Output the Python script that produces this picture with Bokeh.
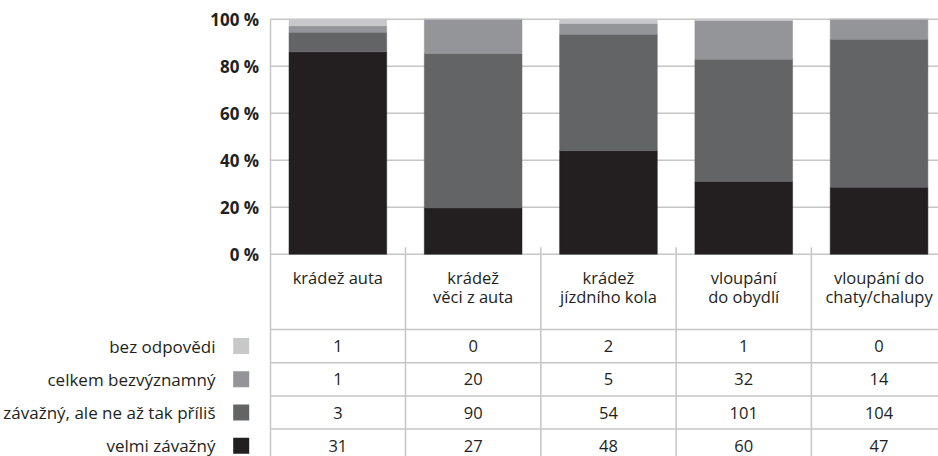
from bokeh.plotting import figure
from bokeh.models import Range1d, FixedTicker, CustomJSTickFormatter, ColumnDataSource
from bokeh.core.properties import value
from bokeh.embed import file_html
from bokeh.resources import INLINE

# ---------------- data ----------------
categories = ["krádež auta", "krádež\nvěci z auta", "krádež\njízdního kola",
              "vloupání\ndo obydlí", "vloupání do\nchaty/chalupy"]
series_names = ["bez odpovědi", "celkem bezvýznamný",
                "závažný, ale ne až tak příliš", "velmi závažný"]  # table rows, top to bottom
bez_odpovedi = [1, 0, 2, 1, 0]
celkem_bezvyznamny = [1, 20, 5, 32, 14]
zavazny_ale_ne = [3, 90, 54, 101, 104]
velmi_zavazny = [31, 27, 48, 60, 47]
y_ticks = [0, 20, 40, 60, 80, 100]

series_values = [bez_odpovedi, celkem_bezvyznamny, zavazny_ale_ne, velmi_zavazny]
series_colors = ["#c7c8ca", "#939598", "#636466", "#231f20"]

# ---------------- layout (pixels) ----------------
W, H = 938, 456
AXIS_PX = 269.7      # screen x of the value axis
COL_PX = 135.3       # width of one category column
ZERO_PX = 253.7      # screen y of 0 %
PCT_PX = 2.35        # pixels per percent
HEADER_PX = 75.3     # height of the table header row
ROW_PX = 33.2        # height of one table row
GRID = "#c6c6c6"
INK = "#231f20"
FONT = "Open Sans"
FS = "16.5px"

x_start = -AXIS_PX / COL_PX
x_end = (W - AXIS_PX) / COL_PX

p = figure(width=W, height=H, output_backend="svg", toolbar_location=None,
           x_range=Range1d(x_start, x_end),
           y_range=Range1d(-(H - ZERO_PX) / PCT_PX, ZERO_PX / PCT_PX),
           x_axis_location=None, min_border=0, outline_line_color=None)
p.extra_y_ranges = {"tbl": Range1d(-(H - ZERO_PX), ZERO_PX)}
p.xgrid.visible = False
p.ygrid.visible = False
p.background_fill_color = "white"
p.border_fill_color = "white"

# value axis at x = 0
ax = p.yaxis[0]
ax.fixed_location = 0
ax.ticker = FixedTicker(ticks=y_ticks)
ax.formatter = CustomJSTickFormatter(code="return tick + ' %';")
ax.bounds = (p.y_range.start, 100)
ax.axis_line_color = GRID
ax.axis_line_width = 1.5
ax.major_tick_out = 0
ax.major_tick_in = 0
ax.minor_tick_out = 0
ax.minor_tick_in = 0
ax.major_label_standoff = 11
ax.major_label_text_font = FONT
ax.major_label_text_font_style = "bold"
ax.major_label_text_font_size = "17px"
ax.major_label_text_color = INK

n = len(categories)
xs = [i + 0.5 for i in range(n)]

# gridlines
p.segment(x0=[0] * len(y_ticks), y0=y_ticks, x1=[x_end] * len(y_ticks), y1=y_ticks,
          line_color=GRID, line_width=1.5)

# stacked 100 % bars (bottom -> top: velmi, závažný, celkem, bez)
totals = [sum(v[i] for v in series_values) for i in range(n)]
data = {"x": xs}
stack_keys = []
stack_colors = []
for k, (name, vals, col) in enumerate(reversed(list(zip(series_names, series_values, series_colors)))):
    key = f"s{k}"
    data[key] = [100.0 * vals[i] / totals[i] for i in range(n)]
    stack_keys.append(key)
    stack_colors.append(col)
src = ColumnDataSource(data)
p.vbar_stack(stack_keys, x="x", width=0.722, source=src,
             fill_color=stack_colors, line_color=stack_colors, line_width=0.5)

# table lines
row_lines = [-HEADER_PX - k * ROW_PX for k in range(len(series_names) + 1)]
p.segment(x0=[0] * len(row_lines), y0=row_lines, x1=[x_end] * len(row_lines), y1=row_lines,
          line_color=GRID, line_width=1.5, y_range_name="tbl")
col_lines = [float(i) for i in range(1, n)]
p.segment(x0=col_lines, y0=[7] * len(col_lines), x1=col_lines,
          y1=[-(H - ZERO_PX)] * len(col_lines),
          line_color=GRID, line_width=1.5, y_range_name="tbl")

# header labels
p.text(x=xs, y=[-12] * n, text=categories, text_align="center", text_baseline="top",
       text_font=value(FONT), text_font_size=FS, text_color=INK,
       text_line_height=0.8, y_range_name="tbl")

# table values
tx, ty, tt = [], [], []
for r, vals in enumerate(series_values):
    for i in range(n):
        tx.append(xs[i])
        ty.append(-HEADER_PX - (r + 0.5) * ROW_PX)
        tt.append(str(vals[i]))
p.text(x=tx, y=ty, text=tt, text_align="center", text_baseline="middle",
       text_font=value(FONT), text_font_size=FS, text_color=INK, y_range_name="tbl")

# row legend (labels + swatches) left of the axis
row_y = [-HEADER_PX - (r + 0.5) * ROW_PX for r in range(len(series_names))]
p.text(x=[-54.7 / COL_PX] * len(series_names), y=row_y, text=series_names,
       text_align="right", text_baseline="middle",
       text_font=value(FONT), text_font_size="17px", text_color=INK, y_range_name="tbl")
p.rect(x=[-29.0 / COL_PX] * len(series_names), y=row_y, width=16, height=16,
       width_units="screen", height_units="screen",
       fill_color=series_colors, line_color=None, y_range_name="tbl")

open("out.html", "w").write(file_html(p, INLINE))
